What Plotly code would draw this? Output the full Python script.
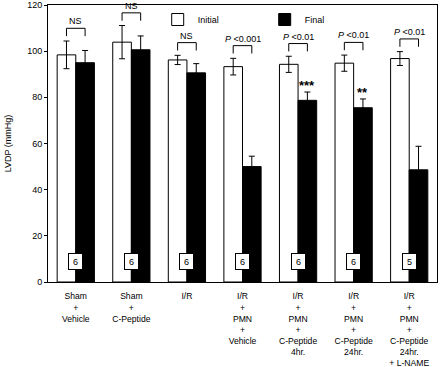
import plotly.graph_objects as go

groups = ["Sham<br>+<br>Vehicle", "Sham<br>+<br>C-Peptide", "I/R",
          "I/R<br>+<br>PMN<br>+<br>Vehicle",
          "I/R<br>+<br>PMN<br>+<br>C-Peptide<br>4hr.",
          "I/R<br>+<br>PMN<br>+<br>C-Peptide<br>24hr.",
          "I/R<br>+<br>PMN<br>+<br>C-Peptide<br>24hr.<br>+ L-NAME"]
initial = [98.4, 103.9, 96.2, 93.3, 94.3, 94.8, 96.8]
initial_err = [6.0, 7.2, 2.0, 3.6, 3.5, 3.5, 3.0]
final = [95.0, 100.6, 90.6, 50.0, 78.7, 75.5, 48.6]
final_err = [5.3, 6.0, 4.0, 4.5, 3.6, 3.8, 10.2]
n_values = ["6", "6", "6", "6", "6", "6", "5"]
comparisons = ["NS", "NS", "NS", "<i>P</i> &lt;0.001", "<i>P</i> &lt;0.01",
               "<i>P</i> &lt;0.01", "<i>P</i> &lt;0.01"]
stars = ["", "", "", "", "***", "**", ""]

FONT = "Liberation Sans, Arial, Helvetica, sans-serif"
xs = list(range(len(groups)))

fig = go.Figure()
fig.add_trace(go.Bar(
    x=xs, y=initial, name="Initial",
    marker=dict(color="white", line=dict(color="black", width=1)),
    error_y=dict(type="data", array=initial_err, color="black", thickness=1, width=3),
))
fig.add_trace(go.Bar(
    x=xs, y=final, name="Final",
    marker=dict(color="black", line=dict(color="black", width=1)),
    error_y=dict(type="data", array=final_err, color="black", thickness=1, width=3),
))

bargap = 0.33
half = (1 - bargap) / 4  # offset of each bar centre from category centre
shapes = []
annotations = []
for i in xs:
    top = max(initial[i] + initial_err[i], final[i] + final_err[i]) + 5.5
    x0, x1 = i - half, i + half
    shapes.append(dict(type="path", xref="x", yref="y",
                       path=f"M {x0},{top-3.4} L {x0},{top} L {x1},{top} L {x1},{top-3.4}",
                       line=dict(color="black", width=1)))
    annotations.append(dict(x=i, y=top, xref="x", yref="y", text=comparisons[i],
                            showarrow=False, yanchor="bottom", yshift=0,
                            font=dict(family=FONT, size=9, color="black")))
    annotations.append(dict(x=i, y=8.7, xref="x", yref="y", text=n_values[i],
                            showarrow=False, bgcolor="white", bordercolor="black",
                            borderwidth=1, borderpad=1, width=11, height=13,
                            font=dict(family=FONT, size=9, color="black")))
    if stars[i]:
        annotations.append(dict(x=i + half, y=final[i] + final_err[i], xref="x", yref="y",
                                text=f"<b>{stars[i]}</b>", showarrow=False,
                                yanchor="bottom", yshift=-3,
                                font=dict(family=FONT, size=13, color="black")))

fig.update_layout(
    width=440, height=367,
    margin=dict(l=48, r=3, t=5, b=85),
    paper_bgcolor="white", plot_bgcolor="white",
    barmode="group", bargap=bargap, bargroupgap=0,
    font=dict(family=FONT, size=9, color="black"),
    showlegend=True,
    legend=dict(orientation="h", x=0.282, xanchor="left", y=1.0, yanchor="top",
                bgcolor="rgba(0,0,0,0)", font=dict(family=FONT, size=9),
                entrywidth=62, itemwidth=30),
    shapes=shapes, annotations=annotations,
)
fig.update_xaxes(range=[-0.5, len(groups) - 0.5], tickvals=xs, ticktext=groups,
                 showline=True, linecolor="black", linewidth=1, mirror=True,
                 ticks="outside", ticklen=6, tickcolor="rgba(0,0,0,0)",
                 showgrid=False, zeroline=False, automargin=False,
                 tickfont=dict(family=FONT, size=8.6))
fig.update_yaxes(range=[0, 120], tickvals=[0, 20, 40, 60, 80, 100, 120],
                 showline=True, linecolor="black", linewidth=1, mirror=True,
                 ticks="outside", ticklen=3, tickcolor="black",
                 showgrid=False, zeroline=False, automargin=False,
                 title=dict(text="LVDP (mmHg)", font=dict(family=FONT, size=9), standoff=14),
                 tickfont=dict(family=FONT, size=9))

fig.write_html("out.html", config={"displayModeBar": False},
               post_script="document.body.style.margin='0';document.body.style.overflow='hidden';")
